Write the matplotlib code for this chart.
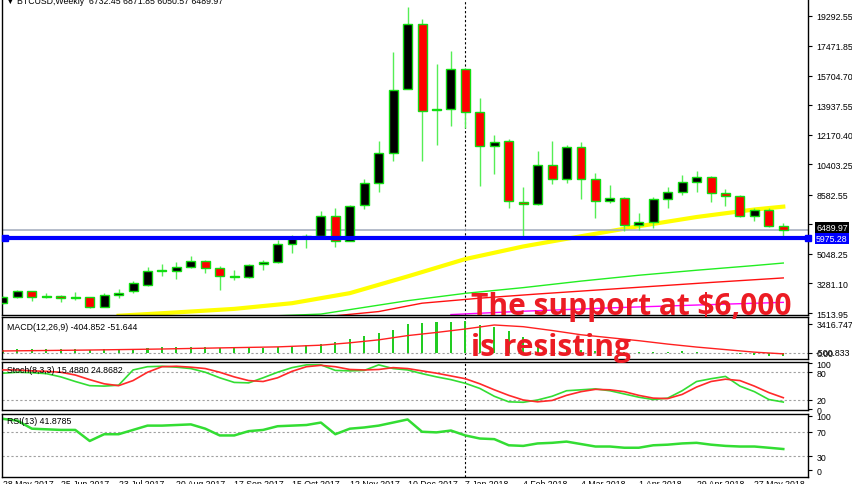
import numpy as np
import matplotlib.pyplot as plt

W, H = 852, 485

# weekly BTCUSD candles, 28 May 2017 .. 3 Jun 2018
opens = [2112, 2470, 2811, 2470, 2512, 2440, 2452, 1873, 2608, 2811,
         3187, 4000, 4024, 4281, 4622, 4185, 3665, 3647, 4424, 4562,
         5637, 5996, 6133, 7329, 5817, 7950, 9283, 11093, 14900, 18803,
         13645, 13705, 16095, 13508, 11494, 11775, 8165, 8010, 10376, 9522,
         11452, 9522, 8189, 8386, 6773, 6970, 8327, 8763, 9361, 9624,
         8667, 8488, 7329, 7687, 6732.45]
highs = [2530, 2888, 2850, 2727, 2580, 2750, 2500, 2709, 2948, 3400,
         4245, 4424, 4544, 4938, 4699, 4305, 4102, 4450, 4676, 5876,
         6175, 6235, 7610, 7807, 7990, 9504, 11811, 17093, 19801, 19083,
         16394, 17153, 16150, 14345, 12151, 11912, 9062, 11213, 11775, 11572,
         11715, 9880, 9163, 8464, 7472, 8428, 9026, 9761, 9982, 9680,
         8924, 8584, 7771, 7771, 6871.85]
lows = [2060, 2410, 2231, 2428, 2200, 2300, 1795, 1850, 2392, 2700,
        3145, 3707, 3546, 4185, 3886, 2888, 3504, 3600, 4102, 4502,
        5100, 5398, 5978, 5440, 5817, 7729, 8727, 10615, 14900, 10579,
        11554, 12671, 12552, 9121, 9821, 7771, 5936, 7950, 9223, 9283,
        8327, 7191, 8088, 6396, 6492, 6611, 7771, 8584, 8763, 8165,
        7890, 7250, 7030, 6635, 6050.57]
closes = [2452, 2811, 2470, 2500, 2392, 2460, 1890, 2590, 2727, 3289,
          4006, 4042, 4281, 4604, 4185, 3707, 3640, 4382, 4562, 5637,
          5978, 6116, 7329, 5817, 7926, 9265, 11076, 14823, 18803, 13568,
          13700, 16095, 13508, 11494, 11751, 8189, 8010, 10376, 9522, 11452,
          9522, 8189, 8386, 6773, 6970, 8327, 8763, 9361, 9624, 8667,
          8488, 7329, 7687, 6731, 6489.97]

# moving averages (read at a few weeks)
ma_yellow_idx = [8, 12, 16, 20, 24, 28, 32, 36, 40, 44, 48, 52, 54]
ma_yellow = [1350, 1550, 1760, 2100, 2700, 3700, 4740, 5490, 6100, 6700, 7250, 7700, 7870]
ma_green_idx = [19, 22, 25, 28, 32, 36, 40, 44, 48, 52, 54]
ma_green = [1350, 1450, 1850, 2250, 2690, 3030, 3420, 3770, 4070, 4350, 4500]
ma_red_idx = [23, 26, 29, 33, 37, 41, 45, 49, 54]
ma_red = [1350, 1600, 2100, 2400, 2650, 2880, 3110, 3340, 3610]
ma_mag_idx = [31, 36, 42, 48, 54]
ma_mag = [1420, 1620, 1820, 1990, 2150]

support = 5975.28
last_close = 6489.97

price_ticks = [19292.55, 17471.85, 15704.70, 13937.55, 12170.40, 10403.25,
               8582.55, 6815.40, 5048.25, 3281.10, 1513.95]

macd_hist = [300, 450, 500, 520, 500, 480, 400, 420, 450, 500,
             600, 650, 680, 700, 680, 600, 550, 580, 620, 750,
             880, 980, 1100, 1350, 1650, 1950, 2350, 2700, 3420, 3530,
             3650, 3700, 3770, 3350, 3060, 2590, 1880, 1300, 820, 560,
             350, 200, 150, 100, 80, 120, 150, 180, 150, 50,
             -50, -150, -250, -300, -405]
sig_idx = [0, 6, 11, 15, 19, 22, 24, 26, 28, 30, 32, 34, 36, 38, 40, 42, 44, 46, 48, 50, 52, 54]
macd_sig = [240, 350, 470, 600, 720, 920, 1200, 1550, 2050, 2420, 2830, 3300,
            3100, 2650, 2150, 1800, 1450, 1050, 700, 400, 100, -100]

stoch_k = [78, 80, 79, 77, 70, 60, 51, 50, 52, 85,
           92, 93, 91, 88, 80, 68, 58, 57, 68, 80,
           90, 96, 96, 84, 83, 84, 96, 88, 85, 77,
           70, 64, 56, 45, 28, 16, 15, 20, 28, 40,
           42, 44, 40, 33, 26, 21, 24, 40, 60, 66,
           71, 50, 38, 21, 15.5]
stoch_d = [85, 85, 83, 82, 80, 74, 64, 55, 51, 62,
           80, 92, 93, 91, 88, 80, 70, 62, 60, 68,
           82, 92, 95, 92, 86, 85, 86, 90, 88, 83,
           78, 72, 66, 55, 42, 30, 20, 16, 19, 30,
           38, 43, 42, 38, 30, 24, 23, 32, 48, 60,
           65, 62, 50, 36, 24.9]

rsi = [91, 88, 75, 74, 73, 73, 55, 66, 66, 73,
       80, 80, 81, 82, 75, 64, 64, 71, 73, 79,
       80, 81, 85, 66, 75, 77, 80, 85, 90, 70,
       69, 72, 64, 59, 58, 48, 47, 51, 52, 54,
       50, 46, 46, 44, 44, 48, 49, 51, 52, 49,
       47, 46, 46, 44, 41.9]

date_labels = ['28 May 2017', '25 Jun 2017', '23 Jul 2017', '20 Aug 2017',
               '17 Sep 2017', '15 Oct 2017', '12 Nov 2017', '10 Dec 2017',
               '7 Jan 2018', '4 Feb 2018', '4 Mar 2018', '1 Apr 2018',
               '29 Apr 2018', '27 May 2018']
marker_week = 32

FONT = 'Liberation Sans'
FS = 6.3
plt.rcParams['font.family'] = FONT

fig = plt.figure(figsize=(W / 100, H / 100), dpi=100)
fig.patch.set_facecolor('white')


def box(x0, y0, x1, y1):
    return [x0 / W, 1 - y1 / H, (x1 - x0) / W, (y1 - y0) / H]


XL = (-0.07, 55.71)
n = len(closes)
idx = np.arange(n)

ax = fig.add_axes(box(2, 0, 808, 316))
ax_macd = fig.add_axes(box(2, 318, 808, 360))
ax_st = fig.add_axes(box(2, 363, 808, 411))
ax_rsi = fig.add_axes(box(2, 415, 808, 478))

for a in (ax, ax_macd, ax_st, ax_rsi):
    a.set_xlim(*XL)
    a.set_xticks([])
    a.yaxis.tick_right()
    a.tick_params(axis='y', length=3, width=0.8, pad=3, labelsize=FS, direction='out')
    for s in a.spines.values():
        s.set_color('black')
        s.set_linewidth(1)
    a.axvline(marker_week, color='black', ls=(0, (2, 2)), lw=0.8, zorder=1)
ax.spines['top'].set_visible(False)

# ---- price panel
ax.set_ylim(1394.5, 20278.6)
o = np.array(opens); c = np.array(closes)
hi = np.array(highs); lo = np.array(lows)
up = c >= o
ax.vlines(idx, lo, hi, color='#55ee55', lw=1, zorder=3)
body_lo = np.minimum(o, c)
body_h = np.maximum(np.abs(c - o), 60)
ax.bar(idx, body_h, bottom=body_lo, width=0.62,
       color=np.where(up, 'black', '#ff0000'), edgecolor='#11dd11', linewidth=1, zorder=4)

ax.plot(ma_mag_idx, ma_mag, color='#ff00ff', lw=1, zorder=2)
ax.plot(ma_red_idx, ma_red, color='#ff1010', lw=1, zorder=2)
ax.plot(ma_green_idx, ma_green, color='#22ee22', lw=1, zorder=2)
ax.plot(ma_yellow_idx, ma_yellow, color='#ffff00', lw=3, zorder=2)

ax.axhline(last_close, color='#a8b0c0', lw=1.2, zorder=2)
ax.axhline(support, color='#0000ff', lw=3, zorder=5)
ax.plot([0.004, 1.0], [support, support], marker='s', ms=4.5, color='#0000ff', lw=0,
        transform=ax.get_yaxis_transform(), clip_on=False, zorder=6)

ax.set_yticks(price_ticks)
ax.set_yticklabels(['%.2f' % v for v in price_ticks])
ytr = ax.get_yaxis_transform()
ax.text(1.01, last_close + 120, '%.2f' % last_close, transform=ytr, color='white',
        fontsize=FS, va='center', ha='left', clip_on=False, zorder=10,
        bbox=dict(facecolor='black', edgecolor='none', pad=0.8))
ax.text(1.01, support - 20, '%.2f' % support, transform=ytr, color='white',
        fontsize=FS, va='center', ha='left', clip_on=False, zorder=10,
        bbox=dict(facecolor='#0000ff', edgecolor='none', pad=0.8))

fig.text(6 / W, 1 - 1 / H, '\u25bc BTCUSD,Weekly  6732.45 6871.85 6050.57 6489.97',
         fontsize=FS, va='center', ha='left', color='black', family=[FONT, 'DejaVu Sans'])

# ---- MACD
ax_macd.set_ylim(-707, 4241)
ax_macd.bar(idx, macd_hist, width=0.14, color='#22cc22', zorder=2)
ax_macd.plot(sig_idx, macd_sig, color='#ff2020', lw=1, zorder=3)
ax_macd.axhline(0, color='#a0a0a0', ls=(0, (2, 2)), lw=0.8, zorder=1)
ax_macd.set_yticks([3416.747, 0])
ax_macd.set_yticklabels(['3416.747', '0.00'])
ax_macd.text(1.01, 0, '-500.833', transform=ax_macd.get_yaxis_transform(),
             fontsize=FS, va='center', ha='left', clip_on=False)
ax_macd.text(0.006, 0.78, 'MACD(12,26,9) -404.852 -51.644', transform=ax_macd.transAxes,
             fontsize=FS, va='center')

# ---- Stochastic
ax_st.set_ylim(-1.7, 102.2)
for lv in (80, 20):
    ax_st.axhline(lv, color='#a0a0a0', ls=(0, (2, 2)), lw=0.8, zorder=1)
ax_st.plot(idx, stoch_k, color='#33dd33', lw=1.2, zorder=2)
ax_st.plot(idx, stoch_d, color='#ff2a2a', lw=1.2, zorder=3)
ax_st.set_yticks([100, 80, 20, 0])
ax_st.set_yticklabels(['100', '80', '20', '0'])
ax_st.text(0.006, 0.84, 'Stoch(8,3,3) 15.4880 24.8682', transform=ax_st.transAxes,
           fontsize=FS, va='center')

# ---- RSI
ax_rsi.set_ylim(-3.6, 98.9)
for lv in (70, 30):
    ax_rsi.axhline(lv, color='#a0a0a0', ls=(0, (2, 2)), lw=0.8, zorder=1)
ax_rsi.plot(idx, rsi, color='#33dd33', lw=1.8, zorder=2)
ax_rsi.set_yticks([96, 70, 30, 7])
ax_rsi.set_yticklabels(['100', '70', '30', '0'])
ax_rsi.text(0.006, 0.9, 'RSI(13) 41.8785', transform=ax_rsi.transAxes,
            fontsize=FS, va='center')

# date labels under the last panel
for k, lab in enumerate(date_labels):
    ax_rsi.text(4 * k, -0.03, lab, transform=ax_rsi.get_xaxis_transform(),
                fontsize=FS, va='top', ha='left', clip_on=False)

# annotation
red = '#ec1c24'
fig.text(471 / W, 1 - 315 / H, 'The support at $6,000', color=red, fontsize=21.5,
         fontweight='bold', family='Open Sans', va='baseline', ha='left', zorder=20)
fig.text(471 / W, 1 - 356 / H, 'is resisting', color=red, fontsize=21.5,
         fontweight='bold', family='Open Sans', va='baseline', ha='left', zorder=20)

fig.savefig('out.png', dpi=100, facecolor='white')
